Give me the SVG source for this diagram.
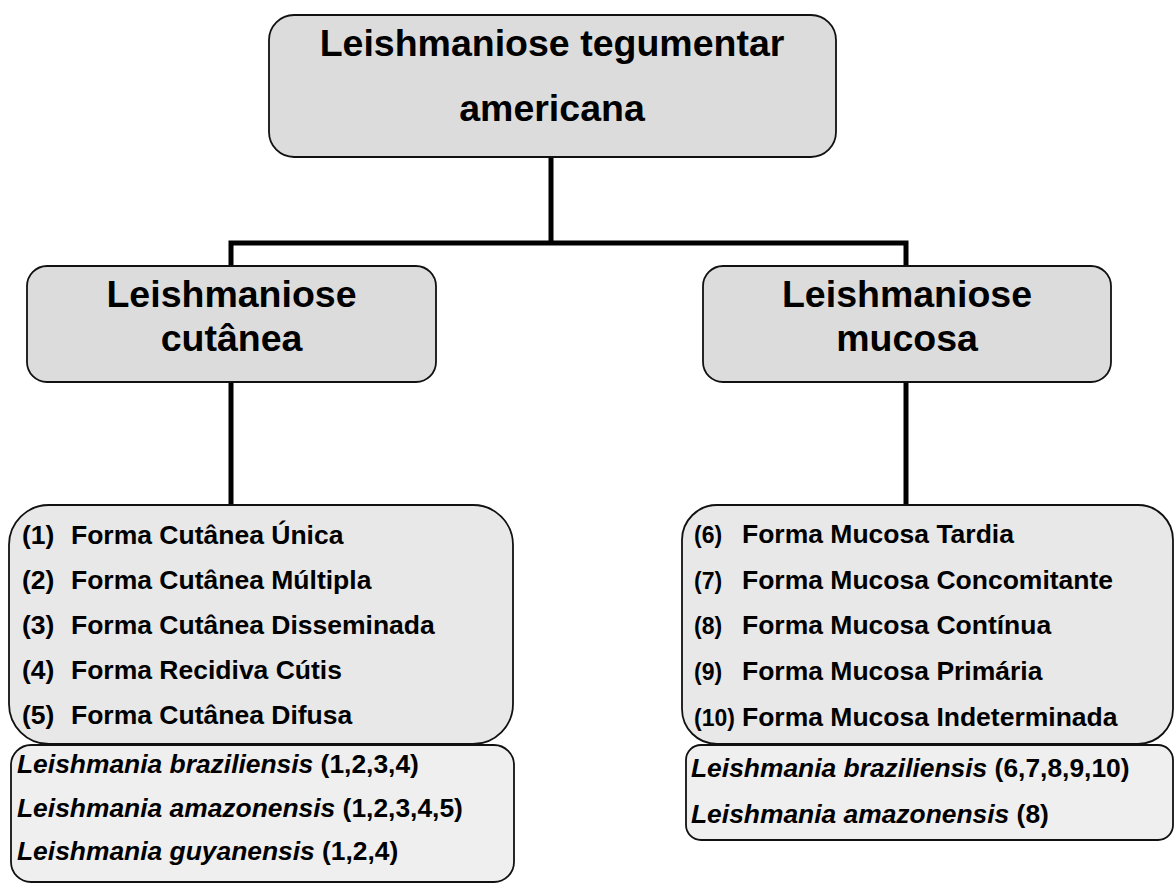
<svg xmlns="http://www.w3.org/2000/svg" width="1175" height="884" viewBox="0 0 1175 884">
  <style>
    text { font-family: "Liberation Sans", Arial, Helvetica, sans-serif; font-weight: bold; fill: #000; }
    .title { font-size: 37.5px; text-anchor: middle; }
    .item { font-size: 26.5px; }
    .num { font-size: 23px; }
    .sp { font-size: 26.4px; }
    .it { font-style: italic; }
    .head { fill: #dcdcdc; stroke: #111; stroke-width: 1.8; }
    .list { fill: #e8e8e8; stroke: #111; stroke-width: 1.8; }
    .spec { fill: #efefef; stroke: #111; stroke-width: 1.8; }
    .conn { fill: none; stroke: #000; stroke-width: 5; stroke-linejoin: miter; stroke-linecap: butt; }
  </style>
  <rect width="1175" height="884" fill="#ffffff"/>

  <g id="connectors">
    <line class="conn" x1="551" y1="157" x2="551" y2="243"/>
    <polyline class="conn" points="231,266 231,243 906,243 906,266"/>
    <line class="conn" x1="231" y1="382" x2="231" y2="505"/>
    <line class="conn" x1="906" y1="382" x2="906" y2="505"/>
  </g>

  <g id="node-root">
    <rect class="head" x="269" y="15" width="567" height="142" rx="25" ry="25"/>
    <text class="title" x="552" y="56">Leishmaniose tegumentar</text>
    <text class="title" x="552" y="121">americana</text>
  </g>

  <g id="node-cutanea">
    <rect class="head" x="27" y="266" width="409" height="116" rx="20" ry="20"/>
    <text class="title" x="231.5" y="307">Leishmaniose</text>
    <text class="title" x="231.5" y="351">cutânea</text>
  </g>

  <g id="node-mucosa">
    <rect class="head" x="703" y="266" width="408" height="116" rx="20" ry="20"/>
    <text class="title" x="907" y="307">Leishmaniose</text>
    <text class="title" x="907" y="351">mucosa</text>
  </g>

  <g id="node-cutanea-forms">
    <rect class="list" x="9" y="505" width="504" height="239" rx="40" ry="40"/>
    <text class="item" x="22" y="544">(1)</text><text class="item" x="71" y="544">Forma Cutânea Única</text>
    <text class="item" x="22" y="589">(2)</text><text class="item" x="71" y="589">Forma Cutânea Múltipla</text>
    <text class="item" x="22" y="634">(3)</text><text class="item" x="71" y="634">Forma Cutânea Disseminada</text>
    <text class="item" x="22" y="679">(4)</text><text class="item" x="71" y="679">Forma Recidiva Cútis</text>
    <text class="item" x="22" y="724">(5)</text><text class="item" x="71" y="724">Forma Cutânea Difusa</text>
  </g>

  <g id="node-cutanea-species">
    <rect class="spec" x="11" y="745" width="503" height="137" rx="20" ry="20"/>
    <text class="sp" x="17" y="773"><tspan class="it">Leishmania braziliensis</tspan> (1,2,3,4)</text>
    <text class="sp" x="17" y="816.5"><tspan class="it">Leishmania amazonensis</tspan> (1,2,3,4,5)</text>
    <text class="sp" x="17" y="860"><tspan class="it">Leishmania guyanensis</tspan> (1,2,4)</text>
  </g>

  <g id="node-mucosa-forms">
    <rect class="list" x="682" y="505" width="491" height="239" rx="35" ry="35"/>
    <text class="num" x="694" y="542.5">(6)</text><text class="item" x="742" y="542.5">Forma Mucosa Tardia</text>
    <text class="num" x="694" y="588.5">(7)</text><text class="item" x="742" y="588.5">Forma Mucosa Concomitante</text>
    <text class="num" x="694" y="634">(8)</text><text class="item" x="742" y="634">Forma Mucosa Contínua</text>
    <text class="num" x="694" y="680">(9)</text><text class="item" x="742" y="680">Forma Mucosa Primária</text>
    <text class="num" x="694" y="726">(10)</text><text class="item" x="742" y="726">Forma Mucosa Indeterminada</text>
  </g>

  <g id="node-mucosa-species">
    <rect class="spec" x="686" y="745" width="487" height="95" rx="15" ry="15"/>
    <text class="sp" x="691" y="777"><tspan class="it">Leishmania braziliensis</tspan> (6,7,8,9,10)</text>
    <text class="sp" x="691" y="822.5"><tspan class="it">Leishmania amazonensis</tspan> (8)</text>
  </g>
</svg>
